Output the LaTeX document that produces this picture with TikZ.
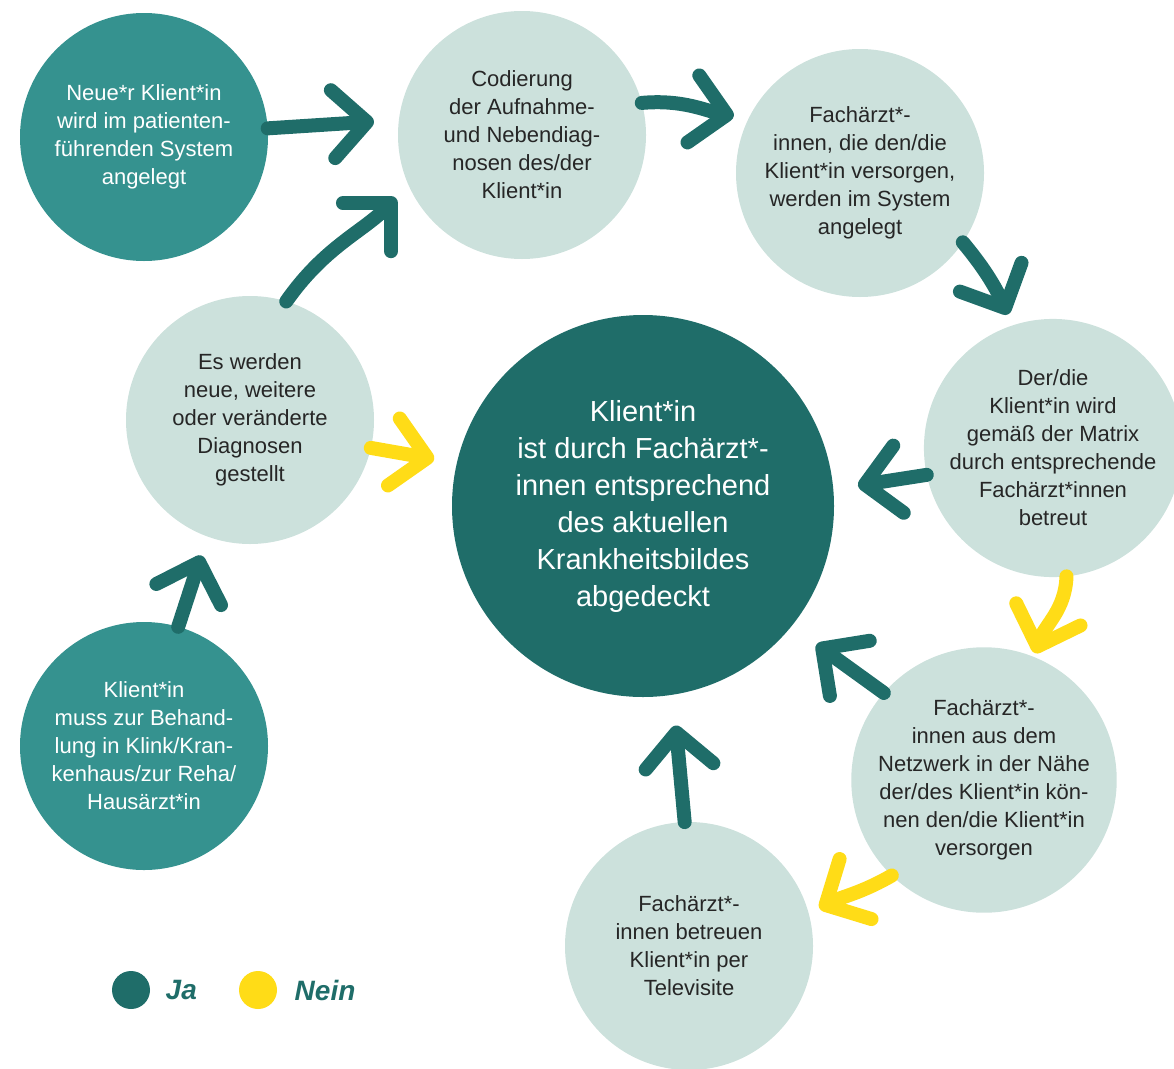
\documentclass[tikz,border=0pt]{standalone}
\usepackage{fontspec}
\setmainfont{Liberation Sans}
\usetikzlibrary{positioning, arrows.meta}
\definecolor{tealdark}{HTML}{1F6D69}
\definecolor{tealmid}{HTML}{35928F}
\definecolor{tealpale}{HTML}{CCE1DC}
\definecolor{signal}{HTML}{FFDC17}
\definecolor{inktext}{HTML}{262626}
\tikzstyle{stepmid} = [
circle,
fill=tealmid,
text=white,
minimum size=248pt,
inner sep=0pt,
outer sep=0pt,
align=center,
font=\fontsize{22}{28}\selectfont
]
\tikzstyle{steppale} = [
stepmid,
fill=tealpale,
text=inktext
]
\tikzstyle{goal} = [
circle,
fill=tealdark,
text=white,
minimum size=382pt,
inner sep=0pt,
outer sep=0pt,
align=center,
font=\fontsize{29}{37}\selectfont
]
\tikzstyle{dot} = [
circle,
minimum size=38pt,
inner sep=0pt
]
\tikzstyle{legend} = [
text=tealdark,
font=\fontsize{28}{32}\selectfont\bfseries\itshape
]
\tikzstyle{jaarrow}=[draw=tealdark, line width=14pt, line cap=round,
-{Straight Barb[length=34pt,width=68pt,round]}]
\tikzstyle{neinarrow}=[jaarrow, draw=signal]

\begin{document}
\begin{tikzpicture}[x=1pt, y=1pt]
        \useasboundingbox (0,0) rectangle (1174,-1068);

        \node(abgedeckt)[goal] at (643,-506)
        {Klient*in\\ist durch Fachärzt*-\\innen entsprechend\\des aktuellen\\Krankheitsbildes\\abgedeckt};

        \node(neu)[stepmid] at (144,-137)
        {Neue*r Klient*in\\wird im patienten-\\führenden System\\angelegt};

        \node(codierung)[steppale] at (522,-135)
        {Codierung\\der Aufnahme-\\und Nebendiag-\\nosen des/der\\Klient*in};

        \node(versorger)[steppale] at (860,-173)
        {Fachärzt*-\\innen, die den/die\\Klient*in versorgen,\\werden im System\\angelegt};

        \node(matrix)[steppale] at (1053,-448)
        {Der/die\\Klient*in wird\\gemäß der Matrix\\durch entsprechende\\Fachärzt*innen\\betreut};

        \node(netzwerk)[steppale] at (984,-780)
        {Fachärzt*-\\innen aus dem\\Netzwerk in der Nähe\\der/des Klient*in kön-\\nen den/die Klient*in\\versorgen};

        \node(televisite)[steppale] at (689,-946)
        {Fachärzt*-\\innen betreuen\\Klient*in per\\Televisite};

        \node(diagnosen)[steppale] at (250,-420)
        {Es werden\\neue, weitere\\oder veränderte\\Diagnosen\\gestellt};

        \node(klinik)[stepmid] at (144,-746)
        {Klient*in\\muss zur Behand-\\lung in Klink/Kran-\\kenhaus/zur Reha/\\Hausärzt*in};

        \draw[jaarrow, shorten >=25pt] (neu.4)--(codierung.173);

        \draw[jaarrow, shorten >=18pt] (diagnosen.73) to[out=55,in=225] (codierung.204);

        \draw[jaarrow, shorten >=15pt] (codierung.15) to[out=5,in=170] (versorger.154);

        \draw[jaarrow, shorten >=12pt] (versorger.-34) to[out=-50,in=115] (matrix.108);

        \draw[jaarrow, shorten >=25pt] (matrix.192)--(abgedeckt.5);

        \draw[neinarrow, shorten >=4pt] (matrix.-84) to[out=-92,in=71] (netzwerk.68);

        \draw[jaarrow, shorten >=31pt] (netzwerk.139)--(abgedeckt.-39);

        \draw[neinarrow, shorten >=12pt] (netzwerk.226) to[out=210,in=28] (televisite.15);

        \draw[jaarrow, shorten >=31pt] (televisite.92)--(abgedeckt.-81);

        \draw[jaarrow, shorten >=20pt] (klinik.74)--(diagnosen.-110);

        \draw[neinarrow, shorten >=23pt] (diagnosen.-13)--(abgedeckt.167);

        \node(jadot)[dot, fill=tealdark] at (131,-990) {};
        \node(ja)[legend, right=12pt of jadot] {Ja};
        \node(neindot)[dot, fill=signal] at (258,-990) {};
        \node(nein)[legend, right=14pt of neindot] {Nein};

        \end{tikzpicture}
\end{document}
